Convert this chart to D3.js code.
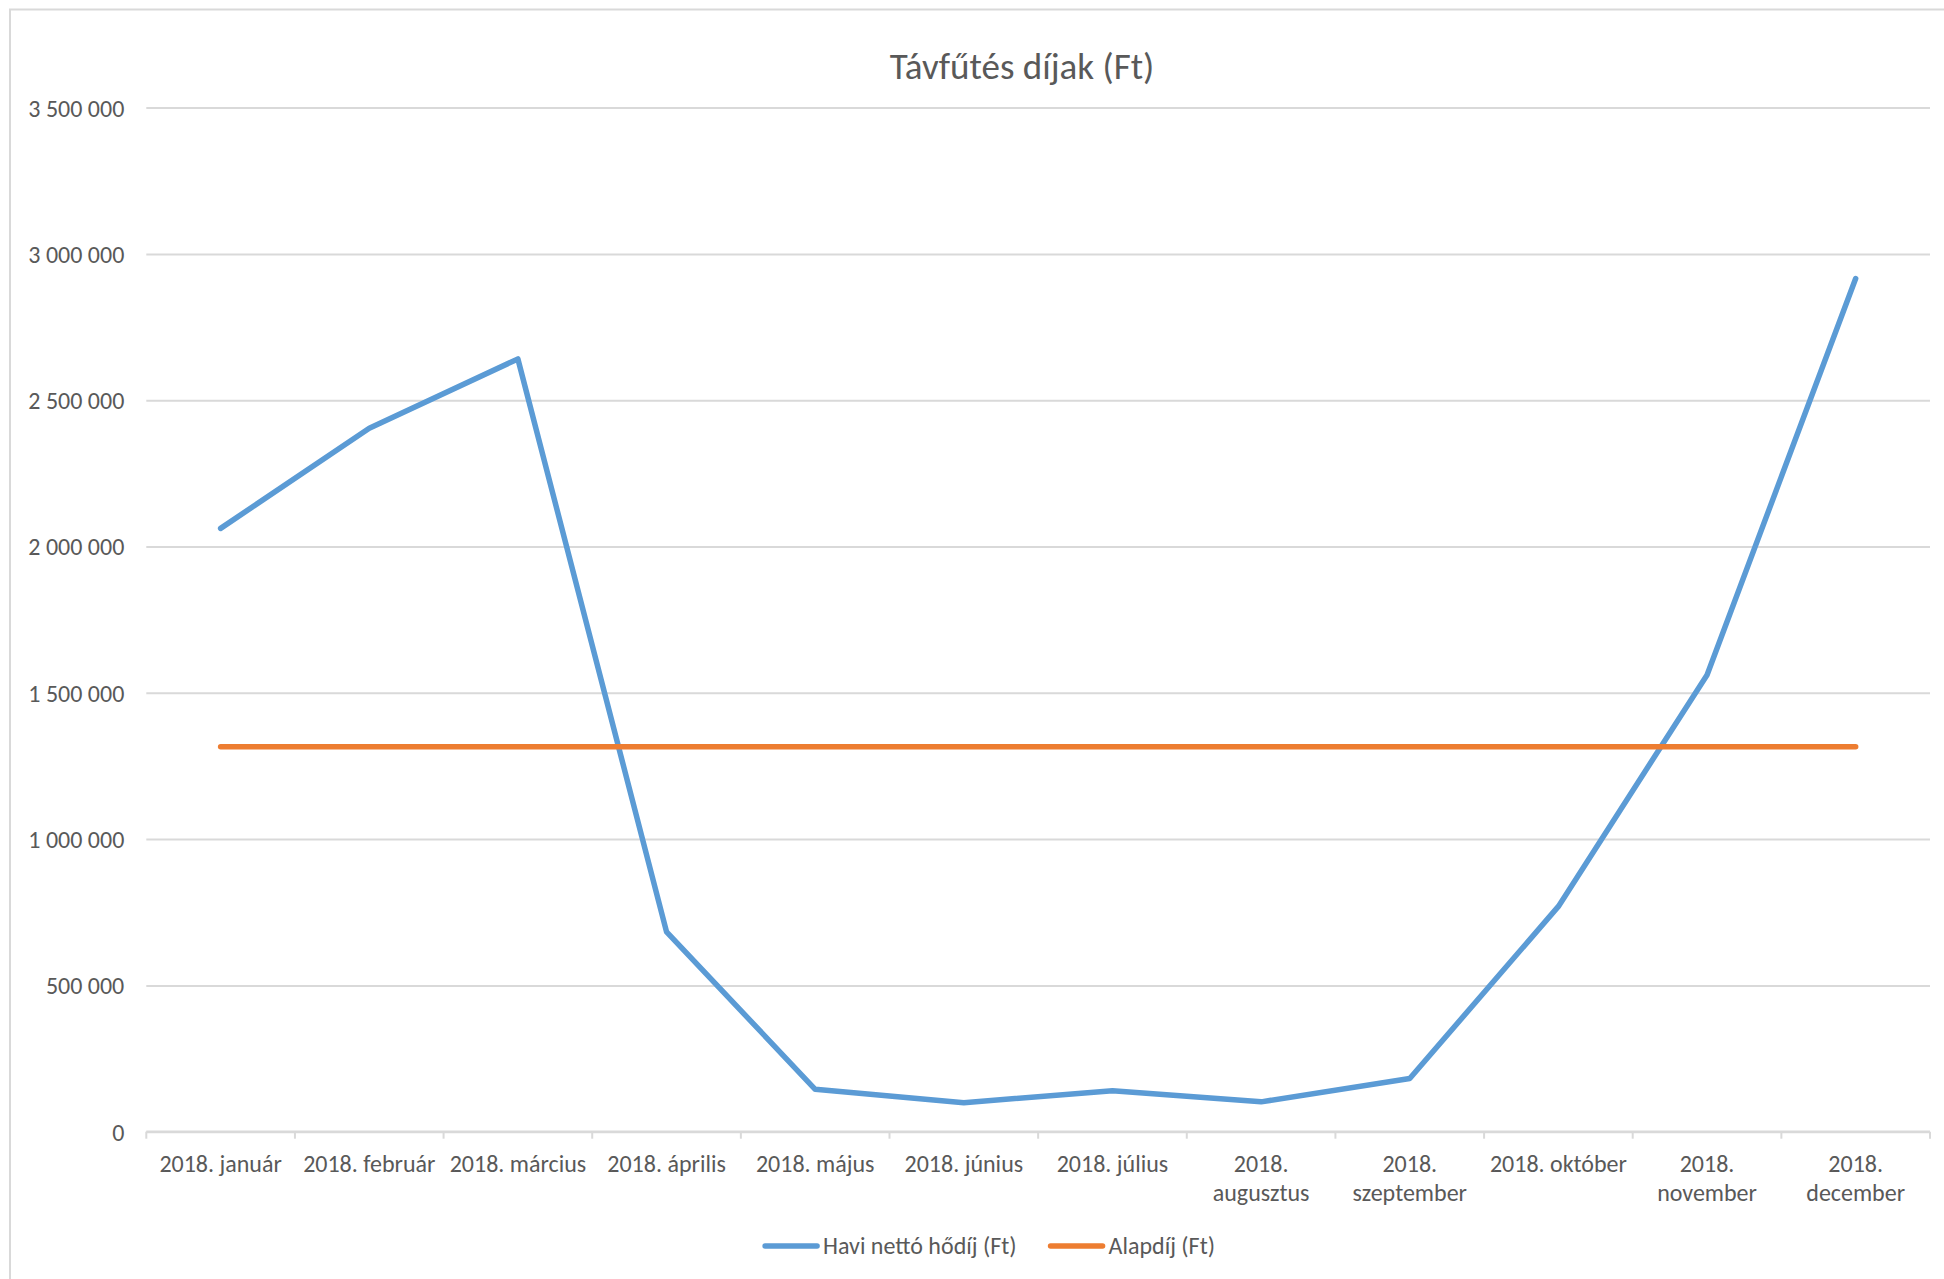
<!DOCTYPE html>
<html>
<head>
<meta charset="utf-8">
<script src="https://cdn.jsdelivr.net/npm/d3@7"></script>
<style>
  body { margin: 0; background: #fff; }
  svg text { font-family: Carlito, Calibri, Lato, sans-serif; fill: #595959; }
</style>
</head>
<body>
<svg id="chart" width="1944" height="1279"></svg>
<script>
// chart data
var months = ['2018. január', '2018. február', '2018. március', '2018. április', '2018. május', '2018. június',
    '2018. július', '2018. augusztus', '2018. szeptember', '2018. október', '2018. november', '2018. december'];
var haviHodij = [2062000, 2404000, 2641000, 683000, 145000, 99000, 140000, 102000, 182000, 770000, 1561000, 2916000];
var alapdij = [1316000, 1316000, 1316000, 1316000, 1316000, 1316000, 1316000, 1316000, 1316000, 1316000, 1316000, 1316000];
var yTicks = [0, 500000, 1000000, 1500000, 2000000, 2500000, 3000000, 3500000];
var seriesNames = ['Havi nettó hődíj (Ft)', 'Alapdíj (Ft)'];
var seriesColors = ['#5b9bd5', '#ed7d31'];
var title = 'Távfűtés díjak (Ft)';

var svg = d3.select('#chart');
var padding = {t: 107.6, r: 14, b: 147.3, l: 146.3};
var svgWidth = +svg.attr('width');
var svgHeight = +svg.attr('height');
var chartWidth = svgWidth - padding.l - padding.r;
var chartHeight = svgHeight - padding.t - padding.b;

var gridColor = '#d9d9d9';
var fontSize = 24;

// chart area frame (runs off the right and bottom edges like the screenshot)
svg.append('rect')
    .attr('x', 10).attr('y', 9.5)
    .attr('width', 2100).attr('height', 2100)
    .attr('fill', 'none')
    .attr('stroke', gridColor)
    .attr('stroke-width', 2);

var chartG = svg.append('g')
    .attr('transform', 'translate(' + [padding.l, padding.t] + ')');

var xScale = d3.scaleBand().domain(months).range([0, chartWidth]).padding(0);
var yScale = d3.scaleLinear().domain([0, 3500000]).range([chartHeight, 0]);

var huLocale = d3.formatLocale({decimal: ',', thousands: '\u00a0', grouping: [3], currency: ['', ' Ft']});
var fmt = huLocale.format(',d');

// gridlines + y labels
var yAxis = d3.axisLeft(yScale).tickValues(yTicks).tickSize(-chartWidth).tickPadding(22).tickFormat(fmt);
var yG = chartG.append('g').call(yAxis);
yG.select('.domain').remove();
yG.selectAll('.tick line').attr('stroke', gridColor).attr('stroke-width', 2);
yG.selectAll('.tick text')
    .style('font-size', fontSize + 'px')
    .attr('dy', '0.35em');

// x axis line and ticks at category boundaries
var xAxisG = chartG.append('g').attr('transform', 'translate(0,' + chartHeight + ')');
xAxisG.append('line')
    .attr('x1', 0).attr('x2', chartWidth)
    .attr('stroke', gridColor).attr('stroke-width', 2.5);
xAxisG.selectAll('.xtick')
    .data(months.concat(['end']))
    .enter().append('line')
    .attr('class', 'xtick')
    .attr('x1', function(d, i) { return i < months.length ? xScale(d) : chartWidth; })
    .attr('x2', function(d, i) { return i < months.length ? xScale(d) : chartWidth; })
    .attr('y1', 0).attr('y2', 7)
    .attr('stroke', gridColor).attr('stroke-width', 2);

// category labels, wrapped onto two lines when too wide for the band
var labels = xAxisG.selectAll('.xlabel')
    .data(months)
    .enter().append('text')
    .attr('class', 'xlabel')
    .attr('text-anchor', 'middle')
    .attr('x', function(d) { return xScale(d) + xScale.bandwidth() / 2; })
    .attr('y', 40)
    .style('font-size', fontSize + 'px')
    .text(function(d) { return d; });

labels.each(function(d) {
    var t = d3.select(this);
    if (this.getComputedTextLength() > xScale.bandwidth() - 8) {
        var parts = d.split(' ');
        var x = t.attr('x');
        t.text(null);
        t.append('tspan').attr('x', x).attr('dy', 0).text(parts[0]);
        t.append('tspan').attr('x', x).attr('dy', 29.5).text(parts.slice(1).join(' '));
    }
});

// lines
var line = d3.line()
    .x(function(d, i) { return xScale(months[i]) + xScale.bandwidth() / 2; })
    .y(function(d) { return yScale(d); });

[haviHodij, alapdij].forEach(function(values, k) {
    chartG.append('path')
        .datum(values)
        .attr('fill', 'none')
        .attr('stroke', seriesColors[k])
        .attr('stroke-width', 5.5)
        .attr('stroke-linejoin', 'round')
        .attr('stroke-linecap', 'round')
        .attr('d', line);
});

// title
svg.append('text')
    .attr('x', 1022)
    .attr('y', 79)
    .attr('text-anchor', 'middle')
    .style('font-size', '37px')
    .text(title);

// legend, centred below the axis
var legendG = svg.append('g').attr('transform', 'translate(0,1246)');
var lx = 0;
var items = legendG.selectAll('.legend-item')
    .data(seriesNames)
    .enter().append('g')
    .attr('class', 'legend-item');
items.append('line')
    .attr('x1', 0).attr('x2', 52)
    .attr('stroke', function(d, i) { return seriesColors[i]; })
    .attr('stroke-width', 5.5)
    .attr('stroke-linecap', 'round');
items.append('text')
    .attr('x', 58)
    .attr('dy', '0.35em')
    .style('font-size', fontSize + 'px')
    .text(function(d) { return d; });
items.each(function() {
    var w = this.getBBox().width;
    d3.select(this).attr('transform', 'translate(' + lx + ',0)');
    lx += w + 34;
});
var legendWidth = lx - 34;
legendG.attr('transform', 'translate(' + (990 - legendWidth / 2) + ',1246)');
</script>
</body>
</html>
